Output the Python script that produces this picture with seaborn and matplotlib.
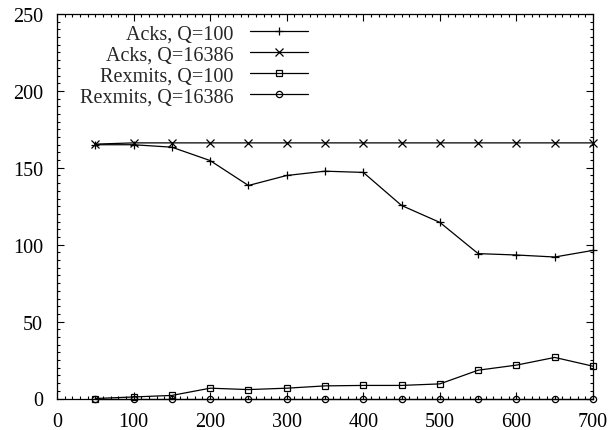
import matplotlib
matplotlib.use("Agg")
import matplotlib.pyplot as plt
from matplotlib.ticker import MultipleLocator
import seaborn as sns
import pandas as pd

# queue-size experiment: acks and retransmissions vs. x
x_vals = [50, 100, 150, 200, 250, 300, 350, 400, 450, 500, 550, 600, 650, 700]
acks_q100 = [165, 165, 163.4, 154.7, 138.5, 145, 147.8, 147, 125.5, 114.5, 94.2, 93.3, 92, 96.3]
acks_q16386 = [165.4, 166.2, 166.2, 166.2, 166.2, 166.2, 166.2, 166.2, 166.2, 166.2, 166.2, 166.2, 166.2, 166.2]
rexmits_q100 = [0, 1, 2, 6.7, 5.8, 6.7, 8.2, 8.5, 8.5, 9.5, 18.4, 21.7, 26.7, 21]
rexmits_q16386 = [0, 0, 0, 0, 0, 0, 0, 0, 0, 0, 0, 0, 0, 0]

series_labels = ["Acks, Q=100", "Acks, Q=16386", "Rexmits, Q=100", "Rexmits, Q=16386"]
series_values = [acks_q100, acks_q16386, rexmits_q100, rexmits_q16386]
series_markers = ["+", "x", "s", "o"]

x_ticks = [0, 100, 200, 300, 400, 500, 600, 700]
y_ticks = [0, 50, 100, 150, 200, 250]

sns.set_style("ticks")
plt.rcParams["font.family"] = ["Liberation Serif", "DejaVu Serif"]

fig = plt.figure(figsize=(6.15, 4.31), dpi=100)
ax = fig.add_axes([57 / 615, 31.5 / 431, 536 / 615, 384.5 / 431])

for label, vals, mk in zip(series_labels, series_values, series_markers):
    df = pd.DataFrame({"x": x_vals, "y": vals})
    sns.lineplot(
        data=df, x="x", y="y", ax=ax, color="black", linewidth=0.9,
        marker=mk, markersize=5.5 if mk in "+x" else 4.5,
        markerfacecolor="none", markeredgecolor="black", markeredgewidth=0.9,
        label=label, clip_on=False,
    )

ax.set_xlim(0, 700)
ax.set_ylim(0, 250)
ax.set_xticks(x_ticks)
ax.set_yticks(y_ticks)
ax.xaxis.set_minor_locator(MultipleLocator(10))
ax.yaxis.set_minor_locator(MultipleLocator(5))
ax.set_xlabel("")
ax.set_ylabel("")

for side in ["top", "right", "left", "bottom"]:
    ax.spines[side].set_visible(True)
    ax.spines[side].set_color("black")
    ax.spines[side].set_linewidth(0.9)

ax.tick_params(which="both", direction="in", top=True, right=True,
               colors="black", labelsize=14.5, width=0.8)
ax.tick_params(which="major", length=5)
ax.tick_params(which="minor", length=2.5)
ax.tick_params(axis="x", which="major", pad=10)
ax.tick_params(axis="y", which="major", pad=10)

leg = ax.legend(
    loc="upper right", bbox_to_anchor=(0.468, 0.974), frameon=False,
    markerfirst=False, fontsize=14.5, handlelength=2.85, handletextpad=0.85,
    labelspacing=0.1, borderaxespad=0.0, borderpad=0.0,
)

fig.savefig("out.png", dpi=100)
